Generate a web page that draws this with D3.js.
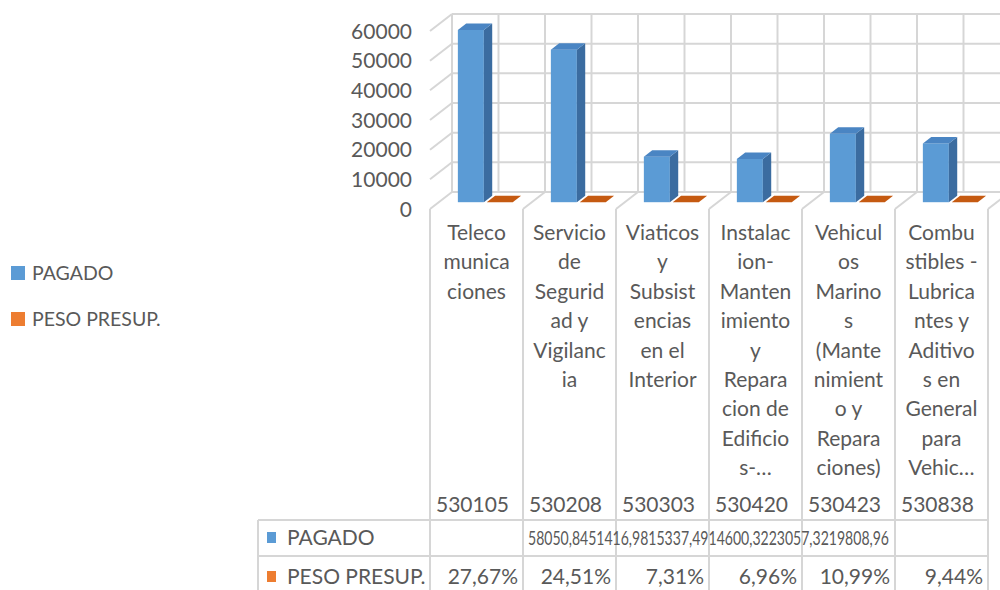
<!DOCTYPE html>
<html>
<head>
<meta charset="utf-8">
<script src="https://cdn.jsdelivr.net/npm/d3@7"></script>
<style>
  body { margin: 0; background: #fff; }
  svg { display: block; font-family: Lato, 'Open Sans', sans-serif; }
  .lbl { fill: #595959; }
</style>
</head>
<body>
<div id="chart"></div>
<script>
// categories (cuenta + nombre, as wrapped by the chart)
const codes = ['530105', '530208', '530303', '530420', '530423', '530838'];
const categoryLines = [
    ['Teleco', 'munica', 'ciones'],
    ['Servicio', 'de', 'Segurid', 'ad y', 'Vigilanc', 'ia'],
    ['Viaticos', 'y', 'Subsist', 'encias', 'en el', 'Interior'],
    ['Instalac', 'ion-', 'Manten', 'imiento', 'y', 'Repara', 'cion de', 'Edificio', 's-…'],
    ['Vehicul', 'os', 'Marino', 's', '(Mante', 'nimient', 'o y', 'Repara', 'ciones)'],
    ['Combu', 'stibles -', 'Lubrica', 'ntes y', 'Aditivo', 's en', 'General', 'para', 'Vehic…']
];
const seriesNames = ['PAGADO', 'PESO PRESUP.'];
const seriesColors = ['#5B9BD5', '#ED7D31'];
const pagado = [58050.84, 51416.98, 15337.49, 14600.32, 23057.32, 19808.96];
const pesoPresup = [27.67, 24.51, 7.31, 6.96, 10.99, 9.44];   // percent
const yTicks = [0, 10000, 20000, 30000, 40000, 50000, 60000];

const W = 1000, H = 590;
const DX = 22, DY = 17;          // depth offset back -> front
const gridColor = '#D6D6D6';

const loc = d3.formatLocale({decimal: ',', thousands: '', grouping: [3], currency: ['', '']});
const fmt2 = loc.format('.2f');

const svg = d3.select('#chart').append('svg')
    .attr('width', W).attr('height', H);

// front-plane scales
const x = d3.scaleBand().domain(codes).range([430, 988]).padding(0);
const y = d3.scaleLinear().domain([0, 60000]).range([209, 31]);
const xs = d3.scaleBand().domain(seriesNames).range([0, x.bandwidth()])
    .paddingInner(0.1).paddingOuter(0.66);

const xLeft = 430;
const gridG = svg.append('g').attr('stroke', gridColor).attr('stroke-width', 2).attr('fill', 'none');

function addLines(data, x1, y1, x2, y2) {
    gridG.append('g').selectAll('line').data(data).join('line')
        .attr('x1', x1).attr('y1', y1).attr('x2', x2).attr('y2', y2);
}

// back wall horizontal gridlines
addLines(yTicks, xLeft + DX, t => y(t) - DY, W + 20, t => y(t) - DY);
// back wall vertical gridlines (category borders and centers)
const halfSteps = d3.range(0, codes.length * 2 + 2).map(k => xLeft + DX + k * x.step() / 2);
addLines(halfSteps, v => v, y(60000) - DY, v => v, y(0) - DY);
// side wall diagonals
addLines(yTicks.slice(1), xLeft + DX, t => y(t) - DY, xLeft, t => y(t));
// floor diagonals + table column borders
const borders = d3.range(0, codes.length + 1).map(k => xLeft + k * x.step());
addLines(borders, v => v + DX, y(0) - DY, v => v, y(0));
addLines(borders, v => v, y(0), v => v, H);
// table rows and left border
const rowTop = 520, rowMid = 556, tableLeft = 258;
addLines([rowTop, rowMid], tableLeft, v => v, borders[borders.length - 1], v => v);
addLines([tableLeft], tableLeft, rowTop, tableLeft, H);

// 3D bars
const dFront = 0.6, dBack = 0.22;
const sideColors = ['#3B6CA0', '#A94C10'];
const topColors = ['#4A85C3', '#C55A11'];
const barData = [];
codes.forEach((c, i) => {
    barData.push({code: c, s: 0, v: pagado[i]});
    barData.push({code: c, s: 1, v: pesoPresup[i] / 100});
});
const barG = svg.append('g');
barData.forEach(b => {
    const bw = xs.bandwidth();
    const x0 = x(b.code) + xs(seriesNames[b.s]) + (1 - dFront) * DX;
    const yb = y(0) - (1 - dFront) * DY;
    const yt = y(b.v) - (1 - dFront) * DY;
    const ddx = (dFront - dBack) * DX, ddy = (dFront - dBack) * DY;
    barG.append('rect').attr('x', x0).attr('y', yt).attr('width', bw).attr('height', Math.max(0, yb - yt))
        .attr('fill', seriesColors[b.s]);
    barG.append('polygon')
        .attr('points', [[x0 + bw, yt], [x0 + bw + ddx, yt - ddy], [x0 + bw + ddx, yb - ddy], [x0 + bw, yb]].join(' '))
        .attr('fill', sideColors[b.s]);
    barG.append('polygon')
        .attr('points', [[x0, yt], [x0 + bw, yt], [x0 + bw + ddx, yt - ddy], [x0 + ddx, yt - ddy]].join(' '))
        .attr('fill', topColors[b.s]);
});

// y axis labels
svg.append('g').selectAll('text').data(yTicks).join('text')
    .attr('class', 'lbl')
    .attr('x', 412).attr('y', t => y(t) + 7.5)
    .attr('text-anchor', 'end')
    .style('font-size', '21px')
    .text(t => t);

// category labels
codes.forEach((c, i) => {
    svg.append('g').selectAll('text').data(categoryLines[i]).join('text')
        .attr('class', 'lbl')
        .attr('x', x(c) + x.bandwidth() / 2)
        .attr('y', (s, j) => 240 + j * 29.4)
        .attr('text-anchor', 'middle')
        .style('font-size', '21px')
        .text(s => s);
});

// code row
svg.append('g').selectAll('text').data(codes).join('text')
    .attr('class', 'lbl')
    .attr('x', c => x(c) + x.bandwidth() / 2 - 4)
    .attr('y', 512)
    .attr('text-anchor', 'middle')
    .style('font-size', '21px')
    .text(c => c);

// data table: PAGADO (values overflow together), PESO PRESUP. (percent)
const rowBase = [545, 584];
seriesNames.forEach((name, s) => {
    svg.append('rect').attr('x', 267).attr('y', rowBase[s] - 13).attr('width', 9).attr('height', 11)
        .attr('fill', seriesColors[s]);
    svg.append('text').attr('class', 'lbl').attr('x', 287).attr('y', rowBase[s])
        .style('font-size', '21px').text(name);
});
svg.append('text').attr('class', 'lbl')
    .attr('x', 528).attr('y', rowBase[0])
    .attr('textLength', 361).attr('lengthAdjust', 'spacingAndGlyphs')
    .style('font-size', '19px')
    .text(pagado.map(v => fmt2(v)).join(''));
svg.append('g').selectAll('text').data(pesoPresup).join('text')
    .attr('class', 'lbl')
    .attr('x', (p, i) => x(codes[i]) + x.bandwidth() - 5)
    .attr('y', rowBase[1])
    .attr('text-anchor', 'end')
    .style('font-size', '21px')
    .text(p => fmt2(p) + '%');

// legend
const legend = svg.append('g').selectAll('g').data(seriesNames).join('g')
    .attr('transform', (n, i) => 'translate(11,' + (266 + i * 46) + ')');
legend.append('rect').attr('width', 14).attr('height', 14).attr('fill', (n, i) => seriesColors[i]);
legend.append('text').attr('class', 'lbl').attr('x', 21).attr('y', 14)
    .style('font-size', '19.5px').text(n => n);
</script>
</body>
</html>
